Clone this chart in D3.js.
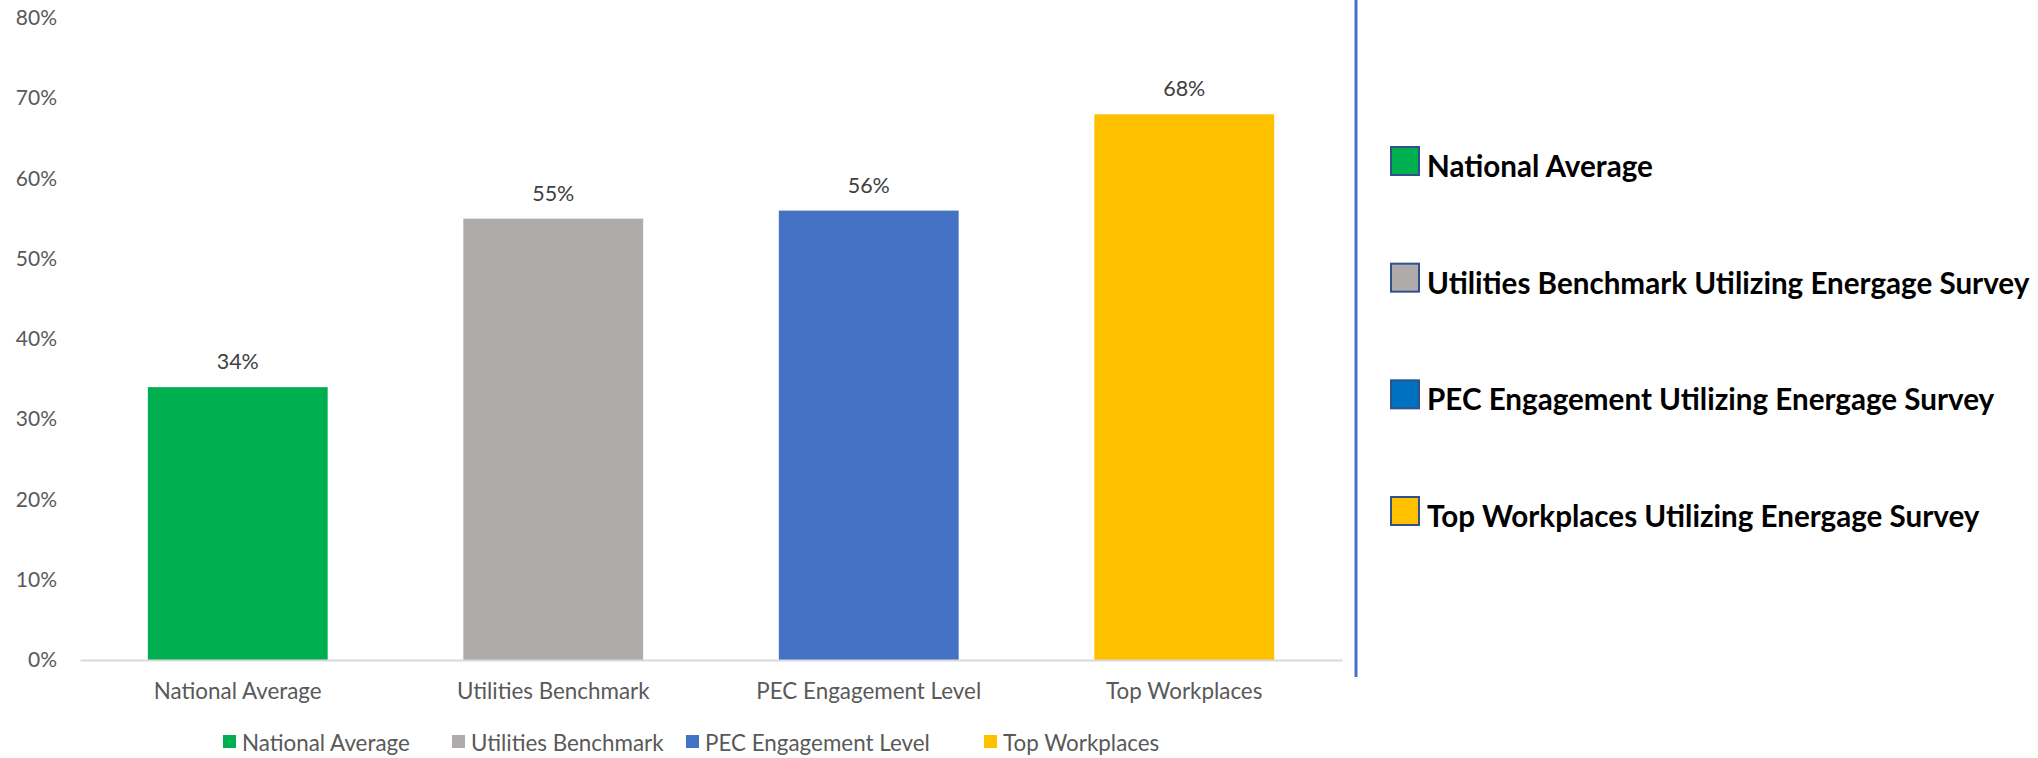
<!DOCTYPE html>
<html>
<head>
<meta charset="utf-8">
<script src="https://cdn.jsdelivr.net/npm/d3@7"></script>
<style>
  body { margin: 0; background: #fff; }
  text { font-family: Lato, "Open Sans", sans-serif; }
</style>
</head>
<body>
<script>
var w = 2038;
var h = 758;

var categories = ["National Average", "Utilities Benchmark", "PEC Engagement Level", "Top Workplaces"];
var values = [0.34, 0.55, 0.56, 0.68];
var barColors = ["#00B050", "#AFABAB", "#4472C4", "#FFC000"];
var yTicks = [0, 0.1, 0.2, 0.3, 0.4, 0.5, 0.6, 0.7, 0.8];

var sideLabels = [
    "National Average",
    "Utilities Benchmark Utilizing Energage Survey",
    "PEC Engagement Utilizing Energage Survey",
    "Top Workplaces Utilizing Energage Survey"
];
var sideColors = ["#00B050", "#AFABAB", "#0070C0", "#FFC000"];

var margin = {left: 80, right: 1342, top: 18, bottom: 660};
var pct = d3.format(".0%");

var svg = d3.select("body")
    .append("svg")
    .attr("width", w)
    .attr("height", h);

var xScale = d3.scaleBand()
    .domain(categories)
    .range([margin.left, margin.right])
    .paddingInner(0.43)
    .paddingOuter(0.215);

var yScale = d3.scaleLinear()
    .domain([0, 0.8])
    .range([margin.bottom, margin.top]);

// bars
svg.selectAll("rect.bar")
    .data(values)
    .enter()
    .append("rect")
    .attr("class", "bar")
    .attr("x", (d, i) => xScale(categories[i]))
    .attr("y", d => yScale(d))
    .attr("width", xScale.bandwidth())
    .attr("height", d => yScale(0) - yScale(d))
    .attr("fill", (d, i) => barColors[i]);

// value labels
svg.selectAll("text.val")
    .data(values)
    .enter()
    .append("text")
    .attr("class", "val")
    .attr("x", (d, i) => xScale(categories[i]) + xScale.bandwidth() / 2)
    .attr("y", d => yScale(d) - 26)
    .attr("text-anchor", "middle")
    .attr("dominant-baseline", "central")
    .attr("font-size", 21.5)
    .attr("fill", "#404040")
    .text(d => pct(d));

// y axis
var yAxis = d3.axisLeft(yScale)
    .tickValues(yTicks)
    .tickSize(0)
    .tickPadding(0)
    .tickFormat(pct);

var gy = svg.append("g")
    .attr("transform", "translate(57,0)")
    .call(yAxis);
gy.select(".domain").remove();
gy.selectAll("text")
    .attr("font-size", 21)
    .attr("fill", "#595959")
    .style("font-family", "Lato");

// x axis
var xAxis = d3.axisBottom(xScale)
    .tickSize(0)
    .tickSizeOuter(0)
    .tickPadding(0);

var gx = svg.append("g")
    .attr("transform", `translate(0,${margin.bottom})`)
    .call(xAxis);
gx.select(".domain")
    .attr("stroke", "#D9D9D9")
    .attr("stroke-width", 2);
gx.selectAll("text")
    .attr("y", 30)
    .attr("dy", null)
    .attr("dominant-baseline", "central")
    .attr("font-size", 22.4)
    .attr("fill", "#595959")
    .style("font-family", "Lato");

// bottom legend
var legendX = [223, 452, 686, 984];
var lg = svg.selectAll("g.lg")
    .data(categories)
    .enter()
    .append("g")
    .attr("class", "lg")
    .attr("transform", (d, i) => `translate(${legendX[i]},742)`);
lg.append("rect")
    .attr("x", 0)
    .attr("y", -7)
    .attr("width", 13)
    .attr("height", 13)
    .attr("fill", (d, i) => barColors[i]);
lg.append("text")
    .attr("x", 19)
    .attr("y", 0)
    .attr("dominant-baseline", "central")
    .attr("font-size", 22.4)
    .attr("fill", "#595959")
    .text(d => d);

// divider
svg.append("line")
    .attr("x1", 1356)
    .attr("x2", 1356)
    .attr("y1", 0)
    .attr("y2", 677)
    .attr("stroke", "#4472C4")
    .attr("stroke-width", 3);

// side legend
var sideY = d3.scalePoint()
    .domain(d3.range(sideLabels.length))
    .range([147, 497]);

var sg = svg.selectAll("g.side")
    .data(sideLabels)
    .enter()
    .append("g")
    .attr("class", "side")
    .attr("transform", (d, i) => `translate(1391,${sideY(i)})`);
sg.append("rect")
    .attr("x", 0)
    .attr("y", 0)
    .attr("width", 28)
    .attr("height", 28)
    .attr("fill", (d, i) => sideColors[i])
    .attr("stroke", "#2F528F")
    .attr("stroke-width", 2);
sg.append("text")
    .attr("x", 36)
    .attr("y", 30)
    .attr("font-size", 29.6)
    .attr("font-weight", "bold")
    .attr("fill", "#000")
    .text(d => d);
</script>
</body>
</html>
